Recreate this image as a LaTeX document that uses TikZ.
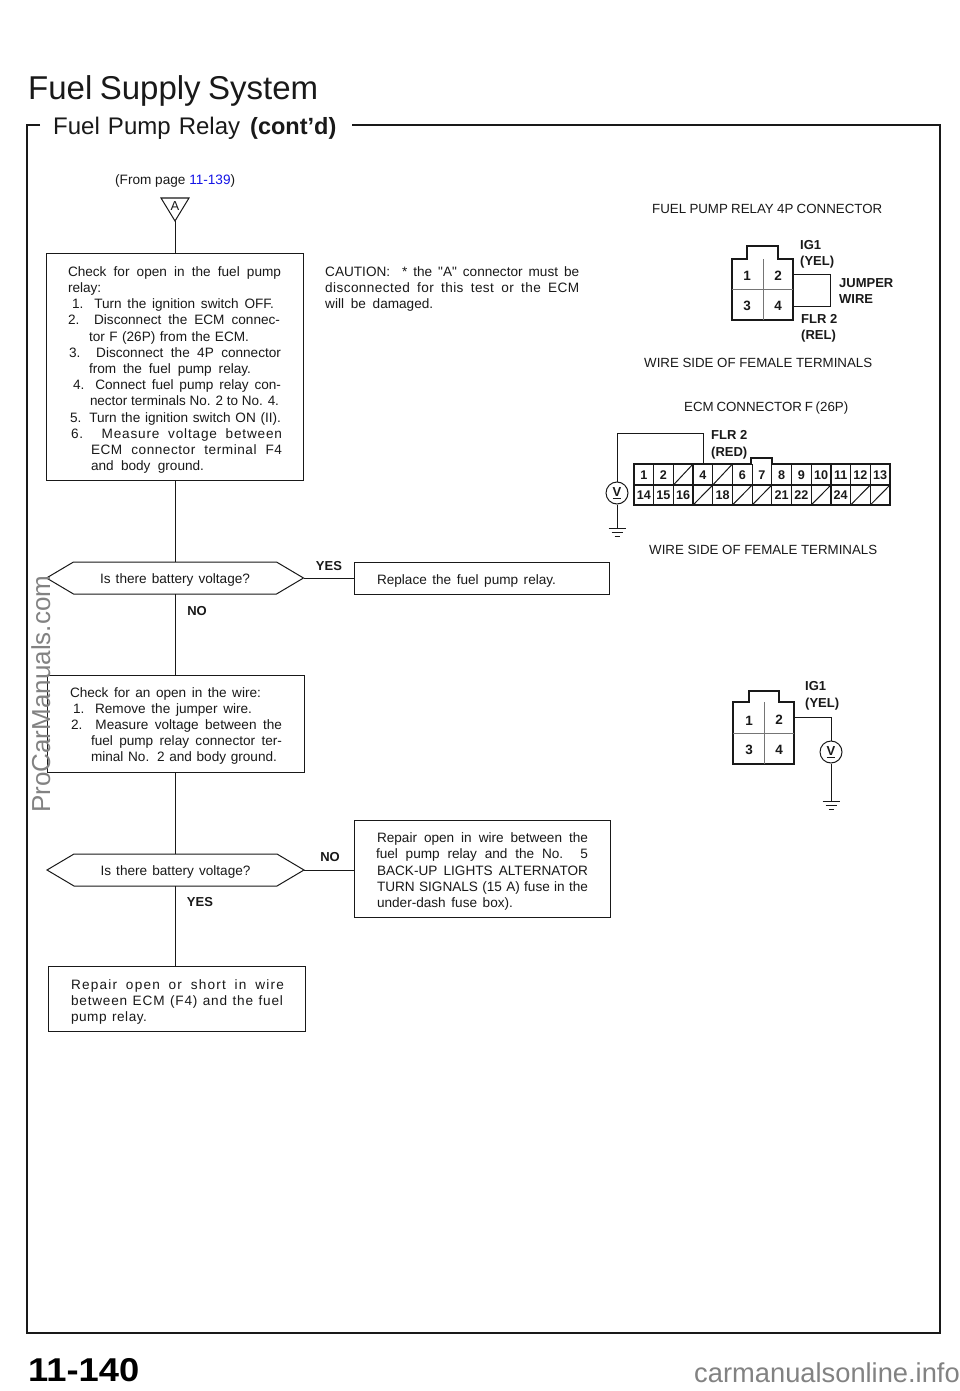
\documentclass[tikz,border=0pt]{standalone}
\usepackage{fontspec}
\setmainfont{Liberation Sans}
\newfontfamily\rawquote[Ligatures=TeXOff]{Liberation Sans}
\usetikzlibrary{calc}
\definecolor{ink}{RGB}{25,25,25}
\definecolor{wmgray}{RGB}{130,130,130}
\definecolor{pagelink}{RGB}{20,20,230}
\newsavebox{\jlnbox}
\newcommand{\jln}[3]{\hbox to \hsize{\hskip #1pt\sbox{\jlnbox}{#3}\ifdim\wd\jlnbox>#2pt\resizebox{#2pt}{\height}{\usebox{\jlnbox}}\else\makebox[#2pt][s]{#3}\fi\hss}}
\newcommand{\lsp}[1]{\addfontfeature{LetterSpace=#1}}
\newcommand{\hexa}[1]{\draw[wire] (#1.west) -- ($(#1.north west)+(27,0)$) -- ($(#1.north east)+(-27,0)$) -- (#1.east) -- ($(#1.south east)+(-27,0)$) -- ($(#1.south west)+(27,0)$) -- cycle;}
\tikzset{
  x=1pt,y=-1pt,
  flowbox/.style={draw=ink,line width=1pt,rectangle,inner sep=0pt,text=ink,font=\fontsize{13.6}{16.2}\selectfont},
  decide/.style={rectangle,minimum width=257pt,minimum height=32pt,inner sep=0pt,outer sep=0pt,text=ink,font=\fontsize{13.6}{16}\selectfont},
  wire/.style={draw=ink,line width=1pt},
  captext/.style={text=ink,inner sep=0pt,font=\fontsize{13.3}{15}\selectfont},
  wiretag/.style={text=ink,inner sep=0pt,anchor=base west,font=\fontsize{13}{15}\selectfont\bfseries},
  pinnum/.style={text=ink,inner sep=0pt,font=\fontsize{13.5}{15}\selectfont\bfseries},
  flowtag/.style={text=ink,inner sep=0pt,font=\fontsize{13}{15}\selectfont\bfseries},
  meter/.style={draw=ink,line width=1pt,circle,minimum size=22pt,inner sep=0pt,fill=white,text=ink,font=\fontsize{13}{15}\selectfont\bfseries},
  shell/.style={draw=ink,line width=1.8pt},
  divider/.style={draw=ink!60,line width=.7pt},
  earth/.style={draw=ink,line width=1pt},
}
\begin{document}
\begin{tikzpicture}
\useasboundingbox (0,0) rectangle (960,1391);
\fill[white] (0,0) rectangle (960,1391);

% Frame
\draw[draw=ink,line width=2pt] (40,125) -- (27,125) -- (27,1333) -- (940,1333) -- (940,125) -- (352,125);

% Titles
\node[anchor=base west,inner sep=0pt,text=ink,font=\fontsize{33}{36}\selectfont] (title) at (28,100) {\makebox[290pt][s]{Fuel Supply System}};
\node[anchor=base west,inner sep=0pt,text=ink,font=\fontsize{24}{28}\selectfont] (subtitle) at (53,135) {\makebox[187pt][s]{Fuel Pump Relay}};
\node[anchor=base west,inner sep=0pt,text=ink,font=\fontsize{23.5}{28}\selectfont\bfseries] (contd) at (250,135) {(cont'd)};

% Page references
\node[captext,anchor=base west,font=\fontsize{13.6}{15}\selectfont] (frompage) at (115,184.5) {(From page \textcolor{pagelink}{11-139})};
\draw[wire] (161,198) -- (189,198) -- (175,221) -- cycle;
\node[inner sep=0pt,text=ink,font=\fontsize{13}{14}\selectfont] (a) at (175,206) {A};
\coordinate (atip) at (175,221);

% Flow boxes
\node[flowbox,minimum width=257pt,minimum height=227pt] (b1) at (174.5,366.5) {\vbox{\hsize=257pt\vskip 7pt
  \jln{22}{213}{Check for open in the fuel pump}
  \jln{22}{35}{relay:}
  \jln{26}{202}{1. Turn the ignition switch OFF.}
  \jln{22}{212}{2. Disconnect the ECM connec-}
  \jln{43}{160}{tor F (26P) from the ECM.}
  \jln{23}{212}{3. Disconnect the 4P connector}
  \jln{43}{162}{from the fuel pump relay.}
  \jln{27}{208}{4. Connect fuel pump relay con-}
  \jln{44}{189}{nector terminals No. 2 to No. 4.}
  \jln{24}{211}{5. Turn the ignition switch ON (II).}
  \jln{25}{211}{\lsp{6}6. Measure voltage between}
  \jln{45}{191}{\lsp{4}ECM connector terminal F4}
  \jln{45}{113}{and body ground.}}};
\node[decide] (d1) at (175,578) {\raisebox{-5pt}[0pt][0pt]{\makebox[150pt][s]{Is there battery voltage?}}};
\hexa{d1}
\node[flowbox,minimum width=255pt,minimum height=32pt] (r1) at (481.5,578) {\vbox{\hsize=255pt\vskip 5pt\jln{23}{179}{Replace the fuel pump relay.}}};
\node[flowbox,minimum width=257pt,minimum height=97pt] (b2) at (175.5,723.5) {\vbox{\hsize=257pt\vskip 5pt
  \jln{23}{191}{Check for an open in the wire:}
  \jln{26}{179}{1. Remove the jumper wire.}
  \jln{24}{211}{2. Measure voltage between the}
  \jln{44}{191}{fuel pump relay connector ter-}
  \jln{44}{186}{minal No. 2 and body ground.}}};
\node[decide] (d2) at (175.5,870) {\raisebox{-5pt}[0pt][0pt]{\makebox[150pt][s]{Is there battery voltage?}}};
\hexa{d2}
\node[flowbox,minimum width=256pt,minimum height=97pt] (r2) at (482,868.5) {\vbox{\hsize=256pt\vskip 6pt
  \jln{23}{211}{Repair open in wire between the}
  \jln{22}{212}{fuel pump relay and the No. 5}
  \jln{23}{211}{BACK-UP LIGHTS ALTERNATOR}
  \jln{23}{211}{TURN SIGNALS (15 A) fuse in the}
  \jln{23}{136}{under-dash fuse box).}}};
\node[flowbox,minimum width=257pt,minimum height=65pt] (b3) at (176.5,998.5) {\vbox{\hsize=257pt\vskip 7pt
  \jln{23}{213}{\lsp{9}Repair open or short in wire}
  \jln{23}{212}{\lsp{6}between ECM (F4) and the fuel}
  \jln{23}{76}{\lsp{4}pump relay.}}};

% Flow connectors
\draw[wire] (atip) -- (atip |- b1.north);
\draw[wire] (d1.north |- b1.south) -- (d1.north);
\draw[wire] (d1.east) -- (r1.west);
\draw[wire] (d1.south) -- (d1.south |- b2.north);
\draw[wire] (d2.north |- b2.south) -- (d2.north);
\draw[wire] (d2.east) -- (d2.east -| r2.west);
\draw[wire] (d2.south) -- (d2.south |- b3.north);
\node[flowtag] (yes1) at (329,566) {YES};
\node[flowtag] (no1) at (197,611) {NO};
\node[flowtag] (no2) at (330,857) {NO};
\node[flowtag] (yes2) at (200,902) {YES};

% Caution
\node[anchor=north west,inner sep=0pt,text=ink,font=\fontsize{13.6}{16.4}\selectfont] (caution) at (325,266) {\vbox{\hsize=254pt
  \jln{0}{254}{CAUTION:\ \ * the {\rawquote "A"} connector must be}
  \jln{0}{254}{\lsp{3}disconnected for this test or the ECM}
  \jln{0}{108}{will be damaged.}}};

% Relay connector, jumper
\node[captext,anchor=base west] (c1t) at (652,213.5) {\makebox[230pt][s]{FUEL PUMP RELAY 4P CONNECTOR}};
\draw[shell] (732,320) -- (732,259) -- (747,259) -- (747,246) -- (778,246) -- (778,259) -- (793,259) -- (793,320) -- cycle;
\draw[divider] (763,259) -- (763,320) (732,289) -- (793,289);
\node[pinnum] (p1) at (747,276) {1};
\node[pinnum] (p2) at (778,276) {2};
\node[pinnum] (p3) at (747,306) {3};
\node[pinnum] (p4) at (778,306) {4};
\coordinate (j2) at (793,274);
\coordinate (j4) at (793,306);
\draw[wire] (j2) -- (830,274) -- (830,306) -- (j4);
\node[wiretag] (ig1a) at (800,249) {IG1};
\node[wiretag] (ig1b) at (800,265) {(YEL)};
\node[wiretag] (jw1) at (839,287) {JUMPER};
\node[wiretag] (jw2) at (839,303) {WIRE};
\node[wiretag] (fl1) at (801,323) {FLR 2};
\node[wiretag] (fl2) at (801,339) {(REL)};
\node[captext,anchor=base west] (c1b) at (644,367.5) {\makebox[228pt][s]{WIRE SIDE OF FEMALE TERMINALS}};

% ECM connector
\node[captext,anchor=base west] (c2t) at (684,411.5) {\makebox[164pt][s]{ECM CONNECTOR F (26P)}};
\draw[shell] (634,464) -- (751,464) -- (751,458) -- (772,458) -- (772,464) -- (890,464) -- (890,505) -- (634,505) -- cycle;
\draw[draw=ink,line width=1.2pt] (634,485) -- (890,485);
\foreach \k in {1,...,12} \draw[draw=ink,line width=1.2pt] ({634+\k*19.69},464) -- ({634+\k*19.69},505);
\foreach \k/\t in {0/1,1/2,3/4,5/6,6/7,7/8,8/9,9/10,10/11,11/12,12/13}
  \node[pinnum,font=\fontsize{12.6}{15}\selectfont\bfseries] (top\t) at ({643.8+\k*19.69},475.5) {\t};
\foreach \k/\t in {0/14,1/15,2/16,4/18,7/21,8/22,10/24}
  \node[pinnum,font=\fontsize{12.6}{15}\selectfont\bfseries] (bot\t) at ({643.8+\k*19.69},495.5) {\t};
\foreach \k in {2,4} \draw[wire] ({634+\k*19.69},485) -- ({634+(\k+1)*19.69},464);
\foreach \k in {3,5,6,9,11,12} \draw[wire] ({634+\k*19.69},505) -- ({634+(\k+1)*19.69},485);
\node[wiretag] (fr1) at (711,439) {FLR 2};
\node[wiretag] (fr2) at (711,456) {(RED)};
\coordinate (t4) at (703,464);
\node[meter] (v1) at (617,493) {\underline{V}};
\coordinate (g1) at (617,528);
\draw[wire] (t4) -- (703,433) -- (617,433) -- (v1.north);
\draw[wire] (v1.south) -- (g1);
\draw[earth] ($(g1)+(-8.5,0)$) -- ($(g1)+(8.5,0)$) ($(g1)+(-5.5,4)$) -- ($(g1)+(5.5,4)$) ($(g1)+(-2.5,8)$) -- ($(g1)+(2.5,8)$);
\node[captext,anchor=base west] (c2b) at (649,554.5) {\makebox[228pt][s]{WIRE SIDE OF FEMALE TERMINALS}};

% Relay connector, meter
\draw[shell] (733,764) -- (733,702) -- (749,702) -- (749,691) -- (779,691) -- (779,702) -- (794,702) -- (794,764) -- cycle;
\draw[divider] (764,702) -- (764,764) (733,733) -- (794,733);
\node[pinnum] (q1) at (749,721) {1};
\node[pinnum] (q2) at (779,720) {2};
\node[pinnum] (q3) at (749,750) {3};
\node[pinnum] (q4) at (779,750) {4};
\coordinate (k2) at (794,717);
\node[meter] (v2) at (831,752) {\underline{V}};
\coordinate (g2) at (831,801);
\draw[wire] (k2) -- (831,717) -- (v2.north);
\draw[wire] (v2.south) -- (g2);
\draw[earth] ($(g2)+(-8.5,0)$) -- ($(g2)+(8.5,0)$) ($(g2)+(-5.5,4)$) -- ($(g2)+(5.5,4)$) ($(g2)+(-2.5,8)$) -- ($(g2)+(2.5,8)$);
\node[wiretag] (ig2a) at (805,690) {IG1};
\node[wiretag] (ig2b) at (805,707) {(YEL)};

% Page number and watermarks
\node[anchor=base west,inner sep=0pt,text=black,font=\fontsize{33}{36}\selectfont\bfseries] (pageno) at (28,1381) {\scalebox{1.1}[1]{11-140}};
\node[anchor=base west,inner sep=0pt,rotate=90,text=wmgray,font=\fontsize{26}{30}\selectfont] (wm1) at (50,813) {ProCarManuals.com};
\node[anchor=base east,inner sep=0pt,text=wmgray,font=\fontsize{27.3}{30}\selectfont] (wm2) at (960,1382) {carmanualsonline.info};
\end{tikzpicture}
\end{document}
